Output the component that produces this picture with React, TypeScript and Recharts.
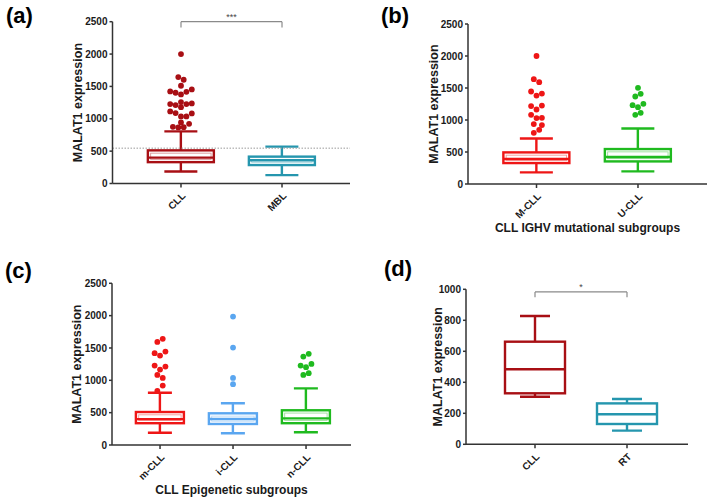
import React from 'react';
import { ComposedChart, Bar, Scatter, XAxis, YAxis, ReferenceLine, ReferenceDot } from 'recharts';

// ---------- Panel (a): CLL vs MBL ----------
const catsA = ['CLL', 'MBL'];
const minA = [185, 130];
const q1A = [330, 285];
const medA = [400, 360];
const q3A = [512, 415];
const maxA = [805, 570];
const outCllA = [2000, 1644, 1603, 1510, 1423, 1402, 1377, 1417, 1454, 1227, 1211, 1258, 1227, 1238, 1180, 1114, 1088, 1036, 1036, 1083, 876, 866, 944, 871, 922];
const laneCllA = [0, -1, 1, 0, -4, -2, 0, 2, 4, -4, -2, 0, 2, 4, 0, -4, -2, 0, 2, 4, -3, -1, 0, 1, 3];
const cutoffA = 546;
const sigA = '***';

// ---------- Panel (b): IGHV subgroups ----------
const catsB = ['M-CLL', 'U-CLL'];
const minB = [182, 198];
const q1B = [327, 353];
const medB = [390, 421];
const q3B = [494, 546];
const maxB = [712, 868];
const outMB = [2000, 1638, 1591, 1445, 1382, 1413, 1217, 1164, 1226, 1081, 1030, 1034, 936, 920, 847, 800];
const laneMB = [0, -1, 1, -2, 0, 2, -2, 0, 2, -2, 0, 2, -1, 2, 1, -1];
const outUB = [1502, 1367, 1409, 1232, 1201, 1253, 1081, 1112];
const laneUB = [0, -1, 1, -2, 0, 2, -1, 1];

// ---------- Panel (c): epigenetic subgroups ----------
const catsC = ['m-CLL', 'i-CLL', 'n-CLL'];
const minC = [190, 181, 198];
const q1C = [337, 325, 337];
const medC = [400, 403, 412];
const q3C = [510, 490, 537];
const maxC = [808, 645, 876];
const outMC = [1594, 1641, 1420, 1383, 1444, 1228, 1166, 1212, 1084, 1037, 918, 836];
const laneMC = [-1, 1, -2, 0, 2, -2, 0, 2, -1, 1, 1, -1];
const outIC = [1986, 1506, 1037, 940];
const laneIC = [0, 0, 0, 0];
const outNC = [1367, 1409, 1228, 1203, 1254, 1084, 1110];
const laneNC = [-1, 1, -2, 0, 2, -1, 1];

// ---------- Panel (d): CLL vs RT ----------
const catsD = ['CLL', 'RT'];
const minD = [307, 88];
const q1D = [329, 131];
const medD = [484, 194];
const q3D = [662, 264];
const maxD = [828, 292];
const sigD = '*';

const ticks2500 = [0, 500, 1000, 1500, 2000, 2500];
const ticks1000 = [0, 200, 400, 600, 800, 1000];

const DARK_RED = '#A80F14';
const TEAL = '#2596AE';
const RED = '#EE1616';
const GREEN = '#1FBA1F';
const BLUE = '#5AA6F0';
const AXIS = '#333';
const TXT = '#1a1a1a';

function makeBoxes(mins: number[], q1s: number[], meds: number[], q3s: number[], maxs: number[]) {
  return mins.map((m, i) => ({ x: i, range: [m, maxs[i]], q1: q1s[i], med: meds[i], q3: q3s[i] }));
}
function makeOut(idx: number, values: number[], lanes: number[], laneUnit: number) {
  return values.map((v, k) => ({ x: idx + lanes[k] * laneUnit, y: v }));
}

function BoxShape(props: any) {
  const { x, y, width, height, payload, colors, boxW, inner } = props;
  if (x == null || y == null || !payload) return null;
  const color = colors[payload.x];
  const cx = x + width / 2;
  const top = Math.min(y, y + height);
  const bottom = Math.max(y, y + height);
  const [lo, hi] = payload.range;
  const py = (v: number) => bottom - ((bottom - top) * (v - lo)) / (hi - lo);
  const yHi = py(hi), yQ3 = py(payload.q3), yMed = py(payload.med), yQ1 = py(payload.q1), yLo = py(lo);
  const half = boxW / 2;
  const cap = boxW / 4;
  const sw = 2.4;
  const ins = 2.8;
  return (
    <g>
      <line x1={cx} x2={cx} y1={yHi} y2={yQ3} stroke={color} strokeWidth={sw} />
      <line x1={cx} x2={cx} y1={yQ1} y2={yLo} stroke={color} strokeWidth={sw} />
      <line x1={cx - cap} x2={cx + cap} y1={yHi} y2={yHi} stroke={color} strokeWidth={sw} />
      <line x1={cx - cap} x2={cx + cap} y1={yLo} y2={yLo} stroke={color} strokeWidth={sw} />
      <rect x={cx - half} y={yQ3} width={boxW} height={yQ1 - yQ3} fill="#fff" stroke={color} strokeWidth={sw} />
      {inner && (
        <rect x={cx - half + ins} y={yQ3 + ins} width={boxW - 2 * ins} height={Math.max(0, yQ1 - yQ3 - 2 * ins)} fill="none" stroke={color} strokeWidth={0.9} opacity={0.45} />
      )}
      <line x1={cx - half} x2={cx + half} y1={yMed} y2={yMed} stroke={color} strokeWidth={sw} />
    </g>
  );
}

type PanelProps = {
  cats: string[];
  boxes: any[];
  outliers: { data: any[]; color: string }[];
  colors: string[];
  domainX: [number, number];
  yMax: number;
  yTicks: number[];
  boxW: number;
  inner: boolean;
  margin: { top: number; right: number; bottom: number; left: number };
  yWidth: number;
  xHeight: number;
  height: number;
  xTitle?: string;
  cutoff?: number;
  sig?: { text: string; y: number; drop: number };
};

function Panel(p: PanelProps) {
  const tickStyle = { fontSize: 10, fontWeight: 'bold', fill: TXT };
  return (
    <ComposedChart width={355} height={p.height} data={p.boxes} margin={p.margin}>
      <XAxis
        type="number"
        dataKey="x"
        domain={p.domainX}
        allowDataOverflow
        ticks={p.cats.map((_, i) => i)}
        tickCount={p.cats.length}
        interval={0}
        tickFormatter={(v: number) => p.cats[Math.round(v)] ?? ''}
        tick={{ fontSize: 10, fontWeight: 'bold', fill: TXT, angle: -45, textAnchor: 'end' } as any}
        tickSize={4}
        tickMargin={4}
        stroke={AXIS}
        axisLine={{ stroke: AXIS, strokeWidth: 1.5 }}
        tickLine={{ stroke: AXIS, strokeWidth: 1.5 }}
        height={p.xHeight}
        label={p.xTitle ? { value: p.xTitle, position: 'insideBottom', offset: 0, fontSize: 12, fontWeight: 'bold', fill: TXT } : undefined}
      />
      <YAxis
        type="number"
        domain={[0, p.yMax]}
        allowDataOverflow
        ticks={p.yTicks}
        interval={0}
        tick={tickStyle as any}
        tickSize={3}
        tickMargin={2}
        stroke={AXIS}
        axisLine={{ stroke: AXIS, strokeWidth: 1.5 }}
        tickLine={{ stroke: AXIS, strokeWidth: 1.5 }}
        width={p.yWidth}
        label={{ value: 'MALAT1 expression', angle: -90, position: 'center', fontSize: 12.5, fontWeight: 'bold', fill: TXT }}
      />
      {p.cutoff != null && (
        <ReferenceLine y={p.cutoff} stroke="#9a9a9a" strokeWidth={1} strokeDasharray="1.5 1.5" />
      )}
      {p.sig && (
        <ReferenceLine segment={[{ x: 0, y: p.sig.y }, { x: 1, y: p.sig.y }]} stroke="#8a8a8a" strokeWidth={1.2} />
      )}
      {p.sig && (
        <ReferenceLine segment={[{ x: 0, y: p.sig.y }, { x: 0, y: p.sig.y - p.sig.drop }]} stroke="#8a8a8a" strokeWidth={1.2} />
      )}
      {p.sig && (
        <ReferenceLine segment={[{ x: 1, y: p.sig.y }, { x: 1, y: p.sig.y - p.sig.drop }]} stroke="#8a8a8a" strokeWidth={1.2} />
      )}
      {p.sig && (
        <ReferenceDot x={0.5} y={p.sig.y} r={0} fill="none" stroke="none" label={{ value: p.sig.text, position: 'top', offset: 2, fontSize: 9, fill: '#444' }} />
      )}
      <Bar
        dataKey="range"
        isAnimationActive={false}
        barSize={p.boxW}
        shape={(sp: any) => <BoxShape {...sp} colors={p.colors} boxW={p.boxW} inner={p.inner} />}
      />
      {p.outliers.map((o, i) => (
        <Scatter
          key={i}
          data={o.data}
          dataKey="y"
          isAnimationActive={false}
          shape={(sp: any) => <circle cx={sp.cx} cy={sp.cy} r={2.9} fill={o.color} />}
        />
      ))}
    </ComposedChart>
  );
}

const LANE_PX = 2.7;

export default function App() {
  const luA = LANE_PX / 101;
  const luB = LANE_PX / 101.5;
  const luC = LANE_PX / 73;
  return (
    <div style={{ position: 'absolute', left: 0, top: 0, width: 710, height: 501, background: '#fff', fontFamily: '"Liberation Sans", Arial, sans-serif', overflow: 'hidden' }}>
      <div style={{ position: 'absolute', left: 0, top: 0 }}>
        <Panel
          cats={catsA}
          boxes={makeBoxes(minA, q1A, medA, q3A, maxA)}
          outliers={[{ data: makeOut(0, outCllA, laneCllA, luA), color: DARK_RED }]}
          colors={[DARK_RED, TEAL]}
          domainX={[-0.678, 1.673]}
          yMax={2500}
          yTicks={ticks2500}
          boxW={66}
          inner
          margin={{ top: 21.7, right: 5, bottom: 26.5, left: 43.5 }}
          yWidth={69}
          xHeight={40}
          height={250}
          cutoff={cutoffA}
          sig={{ text: sigA, y: 2500, drop: 90 }}
        />
      </div>
      <div style={{ position: 'absolute', left: 355, top: 0 }}>
        <Panel
          cats={catsB}
          boxes={makeBoxes(minB, q1B, medB, q3B, maxB)}
          outliers={[
            { data: makeOut(0, outMB, laneMB, luB), color: RED },
            { data: makeOut(1, outUB, laneUB, luB), color: GREEN },
          ]}
          colors={[RED, GREEN]}
          domainX={[-0.675, 1.68]}
          yMax={2500}
          yTicks={ticks2500}
          boxW={66}
          inner
          margin={{ top: 24, right: 3, bottom: 18, left: 45 }}
          yWidth={68}
          xHeight={48}
          height={250}
          xTitle="CLL IGHV mutational subgroups"
        />
      </div>
      <div style={{ position: 'absolute', left: 0, top: 250 }}>
        <Panel
          cats={catsC}
          boxes={makeBoxes(minC, q1C, medC, q3C, maxC)}
          outliers={[
            { data: makeOut(0, outMC, laneMC, luC), color: RED },
            { data: makeOut(1, outIC, laneIC, luC), color: BLUE },
            { data: makeOut(2, outNC, laneNC, luC), color: GREEN },
          ]}
          colors={[RED, BLUE, GREEN]}
          domainX={[-0.658, 2.616]}
          yMax={2500}
          yTicks={ticks2500}
          boxW={48}
          inner
          margin={{ top: 33.3, right: 4, bottom: 7, left: 42 }}
          yWidth={70}
          xHeight={49}
          height={251}
          xTitle="CLL Epigenetic subgroups"
        />
      </div>
      <div style={{ position: 'absolute', left: 355, top: 250 }}>
        <Panel
          cats={catsD}
          boxes={makeBoxes(minD, q1D, medD, q3D, maxD)}
          outliers={[]}
          colors={[DARK_RED, TEAL]}
          domainX={[-0.75, 1.663]}
          yMax={1000}
          yTicks={ticks1000}
          boxW={60}
          inner={false}
          margin={{ top: 39.3, right: 22, bottom: 16.7, left: 55 }}
          yWidth={56}
          xHeight={40}
          height={251}
          sig={{ text: sigD, y: 983, drop: 35 }}
        />
      </div>
      <svg width={710} height={501} style={{ position: 'absolute', left: 0, top: 0, pointerEvents: 'none' }}>
        <text x={6} y={23} fontSize={22} fontWeight="bold" fill="#000">(a)</text>
        <text x={381} y={23} fontSize={22} fontWeight="bold" fill="#000">(b)</text>
        <text x={5} y={278} fontSize={22} fontWeight="bold" fill="#000">(c)</text>
        <text x={384} y={276} fontSize={22} fontWeight="bold" fill="#000">(d)</text>
      </svg>
    </div>
  );
}
